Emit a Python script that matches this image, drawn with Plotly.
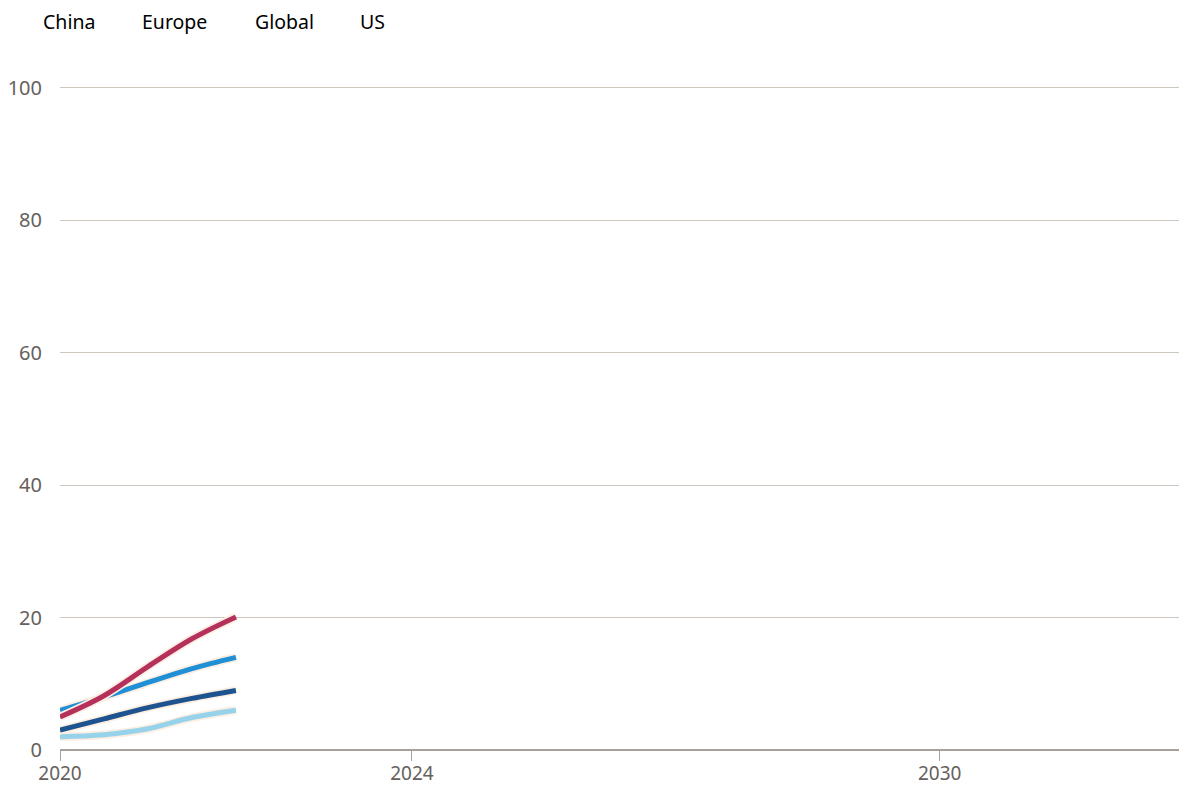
import plotly.graph_objects as go

years = [2020.0, 2020.5, 2021.0, 2021.5, 2022.0]
series_names = ["China", "Europe", "Global", "US"]
china = [5.0, 8.2, 12.6, 16.8, 20.1]
europe = [6.0, 8.0, 10.2, 12.3, 14.0]
global_ = [3.0, 4.7, 6.4, 7.8, 9.0]
us = [2.0, 2.3, 3.2, 4.9, 6.0]
values = [china, europe, global_, us]
colors = ["#b5305a", "#1f8fd6", "#1d5490", "#96d3ea"]
draw_order = [3, 2, 1, 0]

x_ticks = [2020, 2024, 2030]
y_ticks = [0, 20, 40, 60, 80, 100]

fig = go.Figure()
for i in draw_order:
    fig.add_trace(go.Scatter(x=years, y=values[i], mode="lines", line=dict(color="#fdeee2", width=8.5, shape="spline"),
                             showlegend=False, hoverinfo="skip"))
    fig.add_trace(go.Scatter(x=years, y=values[i], mode="lines", name=series_names[i],
                             line=dict(color=colors[i], width=5, shape="spline"), showlegend=False))

legend_x = [41, 140, 253, 358]
for name, px in zip(series_names, legend_x):
    fig.add_annotation(text=name, xref="paper", yref="paper", x=(px - 60) / 1119, y=1 + (86 - 22) / 664,
                       xanchor="left", yanchor="middle", showarrow=False,
                       font=dict(family="Noto Sans", size=19.5, color="#000000"))

fig.update_layout(
    width=1179, height=787,
    margin=dict(l=60, r=0, t=86, b=37, autoexpand=False),
    paper_bgcolor="white", plot_bgcolor="white",
    font=dict(family="Noto Sans", size=20, color="#66605c"),
    showlegend=False,
)
fig.update_xaxes(range=[2020, 2032.72], tickvals=x_ticks, ticktext=[str(t) for t in x_ticks],
                 showgrid=False, zeroline=False, showline=False, automargin=False,
                 ticks="outside", ticklen=10, tickcolor="#a8a09a", tickwidth=1,
                 ticklabelstandoff=-4, tickfont=dict(size=19, color="#66605c"))
fig.update_yaxes(range=[0, 100.3], tickvals=y_ticks, showgrid=True, gridcolor="#cdc6bf", gridwidth=1,
                 zeroline=True, zerolinecolor="#a8a09a", zerolinewidth=2, showline=False, automargin=False,
                 ticks="", ticklabelstandoff=17, tickfont=dict(size=20, color="#66605c"))

fig.write_html("out.html")
